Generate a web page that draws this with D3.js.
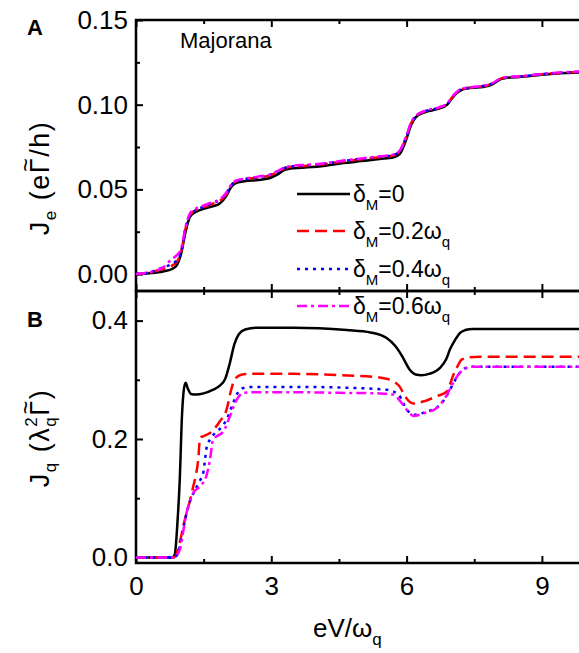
<!DOCTYPE html>
<html>
<head>
<meta charset="utf-8">
<script src="https://cdn.jsdelivr.net/npm/d3@7"></script>
<style>
  body { margin: 0; background: #fff; }
  svg { font-family: "Liberation Sans", Arial, sans-serif; }
  .frame { fill: none; stroke: #000; stroke-width: 2.5; }
  .axis path { display: none; }
  .axis line { stroke: #000; stroke-width: 2; }
  .axis text { font-size: 26px; fill: #000; font-family: "Liberation Sans", Arial, sans-serif; }
  .curve { fill: none; stroke-width: 2.5; }
</style>
</head>
<body>
<div id="chart"></div>
<script>
// legend labels / series names
const seriesNames = ['0', '0.2', '0.4', '0.6']
const seriesColors = ['#000000', '#ff0000', '#0000ff', '#ff00ff']
const seriesDash = [null, '12,6', '3,5', '10,4,3,4']

// panel A: J_e
const xA = [0, 0.3, 0.6, 0.8, 0.9, 1.0, 1.1, 1.2, 1.35, 1.5, 1.7, 1.85, 2.0, 2.1, 2.2, 2.4, 2.7, 3.0, 3.15, 3.3,
  3.5, 3.8, 4.2, 4.6, 5.0, 5.4, 5.7, 5.85, 6.0, 6.1, 6.2, 6.4, 6.7, 6.9, 7.0, 7.1, 7.2, 7.4, 7.7, 7.9,
  8.0, 8.1, 8.2, 8.5, 9.0, 9.5, 10]
const jeBlack = [0.000, 0.0005, 0.0015, 0.003, 0.005, 0.012, 0.025, 0.034, 0.037, 0.0385, 0.040, 0.0415, 0.046, 0.051, 0.0535,
  0.0548, 0.0555, 0.057, 0.059, 0.0615, 0.0625, 0.063, 0.064, 0.0655, 0.0667, 0.068, 0.0688, 0.071, 0.080, 0.088,
  0.0925, 0.0955, 0.0975, 0.100, 0.1035, 0.1065, 0.1085, 0.1098, 0.1105, 0.112, 0.1137, 0.1152, 0.1158, 0.1163, 0.1177,
  0.1187, 0.1192]
const jeRed = [0.000, 0.001, 0.003, 0.005, 0.007, 0.013, 0.027, 0.035, 0.038, 0.0395, 0.0415, 0.043, 0.047, 0.052, 0.0545,
  0.056, 0.057, 0.0585, 0.0605, 0.0625, 0.0635, 0.064, 0.065, 0.0665, 0.0678, 0.069, 0.070, 0.0725, 0.0815, 0.089,
  0.093, 0.096, 0.098, 0.1005, 0.104, 0.107, 0.109, 0.110, 0.111, 0.1125, 0.114, 0.1155, 0.116, 0.1166, 0.118,
  0.119, 0.1195]
const jeBlue = [0.000, 0.001, 0.004, 0.006, 0.008, 0.013, 0.027, 0.035, 0.038, 0.0398, 0.042, 0.0435, 0.0475, 0.052, 0.0545,
  0.056, 0.0572, 0.0588, 0.0607, 0.0627, 0.0637, 0.0642, 0.0652, 0.0668, 0.068, 0.0692, 0.0702, 0.0727, 0.0815, 0.089,
  0.093, 0.096, 0.098, 0.1005, 0.104, 0.107, 0.109, 0.110, 0.111, 0.1125, 0.114, 0.1155, 0.116, 0.1166, 0.118,
  0.119, 0.1195]
const jeMagenta = [0.000, 0.001, 0.004, 0.009, 0.011, 0.015, 0.028, 0.036, 0.039, 0.0405, 0.0425, 0.044, 0.048, 0.0525, 0.055,
  0.0563, 0.0575, 0.059, 0.061, 0.063, 0.064, 0.0645, 0.0655, 0.067, 0.0683, 0.0695, 0.0705, 0.073, 0.082, 0.0895,
  0.0933, 0.0963, 0.0983, 0.1008, 0.1043, 0.1072, 0.1092, 0.1102, 0.1112, 0.1127, 0.1142, 0.1157, 0.1162, 0.1168, 0.1182,
  0.1192, 0.1197]

// panel B: J_q
const xBBlack = [0, 0.8, 0.86, 0.92, 0.97, 1.02, 1.06, 1.1, 1.15, 1.22, 1.33, 1.5, 1.7, 1.86, 1.98, 2.08, 2.18, 2.28, 2.42, 2.7,
  3.5, 4.67, 5.2, 5.55, 5.75, 5.9, 6.07, 6.2, 6.33, 6.5, 6.74, 6.88, 6.96, 7.08, 7.18, 7.3, 7.47, 8.0, 10]
const jqBlack = [0, 0, 0.005, 0.06, 0.131, 0.24, 0.283, 0.295, 0.285, 0.276, 0.275, 0.277, 0.283, 0.29, 0.302, 0.328, 0.36, 0.377, 0.385, 0.388,
  0.388, 0.384, 0.38, 0.371, 0.357, 0.34, 0.317, 0.309, 0.3077, 0.31, 0.32, 0.335, 0.351, 0.368, 0.379, 0.384, 0.386, 0.386, 0.386]
const xBRed = [0, 0.85, 0.93, 1.0, 1.08, 1.2, 1.27, 1.33, 1.38, 1.42, 1.5, 1.64, 1.86, 2.01, 2.1, 2.2, 2.35, 2.5, 3.5, 4.5,
  5.4, 5.7, 5.85, 5.95, 6.05, 6.15, 6.4, 6.66, 6.89, 6.97, 7.04, 7.13, 7.22, 7.4, 7.63, 8.5, 10]
const jqRed = [0, 0, 0.013, 0.035, 0.063, 0.097, 0.12, 0.14, 0.165, 0.202, 0.205, 0.21, 0.23, 0.25, 0.28, 0.302, 0.309, 0.31, 0.31, 0.308,
  0.304, 0.2975, 0.288, 0.274, 0.264, 0.26, 0.264, 0.272, 0.28, 0.294, 0.309, 0.323, 0.334, 0.338, 0.339, 0.339, 0.339]
const xBBlue = [0, 0.85, 0.97, 1.05, 1.16, 1.31, 1.42, 1.49, 1.53, 1.57, 1.65, 1.75, 1.9, 2.01, 2.16, 2.27, 2.38, 2.6, 3.5, 4.5,
  5.56, 5.82, 5.92, 6.0, 6.18, 6.4, 6.74, 6.85, 6.96, 7.08, 7.18, 7.4, 8.5, 10]
const jqBlue = [0, 0, 0.018, 0.05, 0.086, 0.114, 0.13, 0.142, 0.165, 0.187, 0.2, 0.21, 0.22, 0.233, 0.262, 0.28, 0.286, 0.288, 0.288, 0.287,
  0.283, 0.275, 0.262, 0.25, 0.241, 0.245, 0.258, 0.268, 0.283, 0.3, 0.312, 0.322, 0.322, 0.322]
const xBMagenta = [0, 0.85, 0.97, 1.05, 1.12, 1.2, 1.27, 1.42, 1.57, 1.64, 1.71, 1.8, 1.94, 2.08, 2.23, 2.38, 2.6, 3.5, 4.5, 5.4,
  5.7, 5.92, 6.05, 6.15, 6.4, 6.66, 6.85, 6.96, 7.07, 7.26, 7.48, 8.5, 10]
const jqMagenta = [0, 0, 0.013, 0.045, 0.075, 0.095, 0.109, 0.12, 0.14, 0.165, 0.199, 0.205, 0.213, 0.238, 0.266, 0.278, 0.279, 0.279, 0.278, 0.277,
  0.275, 0.258, 0.245, 0.239, 0.244, 0.252, 0.269, 0.284, 0.3, 0.317, 0.322, 0.322, 0.322]

// tick values
const xMajor = [0, 3, 6, 9]
const xMinor = [1.5, 4.5, 7.5]
const yAMajor = [0, 0.05, 0.10, 0.15]
const yAMinor = [0.025, 0.075, 0.125]
const yBMajor = [0, 0.2, 0.4]
const yBMinor = [0.1, 0.3]

const width = 579
const height = 653
const left = 136, right = 587
const topA = 20, midY = 291, bottomB = 563

const svg = d3.select('#chart').append('svg')
  .attr('width', width)
  .attr('height', height)

const x = d3.scaleLinear().domain([0, 10]).range([left, right])
const yA = d3.scaleLinear().domain([-0.01, 0.15]).range([midY, topA])
const yB = d3.scaleLinear().domain([-0.0095, 0.45]).range([bottomB, midY])

function zip(xs, ys) {
  return xs.map((v, i) => ({ x: v, y: ys[i] }))
}

function drawPanel(yScale, top, bottom, yMajor, yMinor, fmt, showX) {
  const g = svg.append('g')

  g.append('g').attr('class', 'axis')
    .attr('transform', `translate(${left},0)`)
    .call(d3.axisLeft(yScale).tickValues(yMajor).tickSize(-7).tickPadding(8).tickFormat(d3.format(fmt)))
  g.append('g').attr('class', 'axis')
    .attr('transform', `translate(${left},0)`)
    .call(d3.axisLeft(yScale).tickValues(yMinor).tickSize(-4).tickFormat(''))
  g.append('g').attr('class', 'axis')
    .attr('transform', `translate(${right},0)`)
    .call(d3.axisRight(yScale).tickValues(yMajor).tickSize(-7).tickFormat(''))
  g.append('g').attr('class', 'axis')
    .attr('transform', `translate(${right},0)`)
    .call(d3.axisRight(yScale).tickValues(yMinor).tickSize(-4).tickFormat(''))

  g.append('g').attr('class', 'axis')
    .attr('transform', `translate(0,${top})`)
    .call(d3.axisTop(x).tickValues(xMajor).tickSize(-7).tickFormat(''))
  g.append('g').attr('class', 'axis')
    .attr('transform', `translate(0,${top})`)
    .call(d3.axisTop(x).tickValues(xMinor).tickSize(-4).tickFormat(''))

  const xb = g.append('g').attr('class', 'axis')
    .attr('transform', `translate(0,${bottom})`)
    .call(d3.axisBottom(x).tickValues(xMajor).tickSize(-7).tickPadding(10)
      .tickFormat(showX ? d3.format('d') : ''))
  xb.selectAll('text').attr('dy', '0.85em')
  g.append('g').attr('class', 'axis')
    .attr('transform', `translate(0,${bottom})`)
    .call(d3.axisBottom(x).tickValues(xMinor).tickSize(-4).tickFormat(''))

  g.append('rect').attr('class', 'frame')
    .attr('x', left).attr('y', top)
    .attr('width', right - left).attr('height', bottom - top)
}

drawPanel(yA, topA, midY, yAMajor, yAMinor, '.2f', false)
drawPanel(yB, midY, bottomB, yBMajor, yBMinor, '.1f', true)

const lineA = d3.line().x(d => x(d.x)).y(d => yA(d.y)).curve(d3.curveMonotoneX)
const lineB = d3.line().x(d => x(d.x)).y(d => yB(d.y)).curve(d3.curveMonotoneX)

const panelA = [jeBlack, jeRed, jeBlue, jeMagenta]
const panelB = [[xBBlack, jqBlack], [xBRed, jqRed], [xBBlue, jqBlue], [xBMagenta, jqMagenta]]

panelA.forEach((ys, i) => {
  svg.append('path')
    .attr('class', 'curve')
    .attr('d', lineA(zip(xA, ys)))
    .attr('stroke', seriesColors[i])
    .attr('stroke-dasharray', seriesDash[i])
})

panelB.forEach(([xs, ys], i) => {
  svg.append('path')
    .attr('class', 'curve')
    .attr('d', lineB(zip(xs, ys)))
    .attr('stroke', seriesColors[i])
    .attr('stroke-dasharray', seriesDash[i])
})

// legend
const legendY = [194, 231, 269, 306]
seriesNames.forEach((name, i) => {
  svg.append('line')
    .attr('x1', 297).attr('x2', 350)
    .attr('y1', legendY[i]).attr('y2', legendY[i])
    .attr('stroke', seriesColors[i])
    .attr('stroke-width', 2.5)
    .attr('stroke-dasharray', seriesDash[i])
  const t = svg.append('text')
    .attr('x', 353).attr('y', legendY[i] + 8)
    .attr('font-size', 23)
  t.append('tspan').text('δ')
  t.append('tspan').attr('font-size', 15).attr('dy', 8).text('M')
  t.append('tspan').attr('dy', -8).text('=' + name)
  if (name !== '0') {
    t.append('tspan').text('ω')
    t.append('tspan').attr('font-size', 15).attr('dy', 8).text('q')
  }
})

// texts
svg.append('text').attr('x', 27).attr('y', 35)
  .attr('font-size', 22).attr('font-weight', 'bold').text('A')
svg.append('text').attr('x', 27).attr('y', 327)
  .attr('font-size', 22).attr('font-weight', 'bold').text('B')
svg.append('text').attr('x', 180).attr('y', 48)
  .attr('font-size', 22).text('Majorana')

// put a tilde over the Gamma of a rotated label
function addTilde(label, idx, transform) {
  const node = label.node()
  const p = node.getStartPositionOfChar(idx)
  const ext = node.getExtentOfChar(idx)
  svg.append('text')
    .attr('transform', transform)
    .attr('x', ext.x + ext.width / 2)
    .attr('y', p.y - 15)
    .attr('text-anchor', 'middle')
    .attr('font-size', 23)
    .text('~')
}

const fs = 27
const trA = 'translate(49,178) rotate(-90)'
const labA = svg.append('text')
  .attr('transform', trA)
  .attr('text-anchor', 'middle')
  .attr('letter-spacing', 1.5)
  .attr('font-size', fs)
labA.append('tspan').text('J')
labA.append('tspan').attr('font-size', 17).attr('dy', 7).text('e')
labA.append('tspan').attr('dy', -7).text(' (eΓ/h)')
addTilde(labA, 5, trA)

const trB = 'translate(49,438) rotate(-90)'
const labB = svg.append('text')
  .attr('transform', trB)
  .attr('text-anchor', 'middle')
  .attr('letter-spacing', 1.5)
  .attr('font-size', fs)
labB.append('tspan').text('J')
labB.append('tspan').attr('font-size', 17).attr('dy', 7).text('q')
labB.append('tspan').attr('dy', -7).text(' (λ')
labB.append('tspan').attr('font-size', 17).attr('dy', -12).text('2')
labB.append('tspan').attr('font-size', 17).attr('dx', -11).attr('dy', 19).text('q')
labB.append('tspan').attr('dy', -7).text('Γ)')
addTilde(labB, 7, trB)

const xl = svg.append('text').attr('x', 313).attr('y', 637).attr('font-size', 26)
xl.append('tspan').text('eV/ω')
xl.append('tspan').attr('font-size', 17).attr('dy', 8).text('q')
</script>
</body>
</html>
